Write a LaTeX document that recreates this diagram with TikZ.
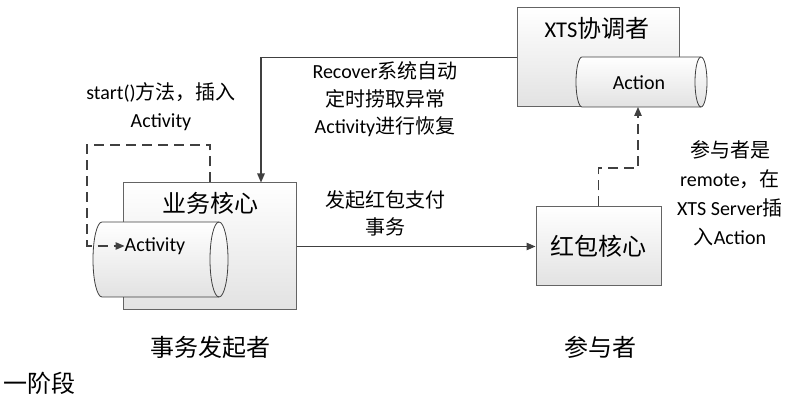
\documentclass[tikz,border=0pt]{standalone}
\usepackage{fontspec}
\setmainfont{Carlito}
\newfontfamily\cjk{Noto Sans CJK SC}
\usetikzlibrary{arrows.meta}

\definecolor{linegray}{RGB}{64,64,64}
\definecolor{edgegray}{RGB}{100,100,100}
\definecolor{fillgray}{RGB}{226,226,226}

% Chinese run inside Latin text
\newcommand\zh[1]{{\cjk #1}}

\tikzset{
  corebox/.style={draw=edgegray, line width=1pt, top color=white,
    bottom color=fillgray, inner sep=0pt},
  cylbody/.style={draw=linegray, line width=0.8pt, top color=white,
    bottom color=fillgray},
  cyledge/.style={draw=linegray, line width=0.8pt},
  label/.style={font=\fontsize{20}{27.5}\selectfont, align=center,
    inner sep=0pt},
  title/.style={font=\fontsize{24}{30}\selectfont\cjk, inner sep=0pt},
  link/.style={draw=linegray, line width=1.2pt,
    -{Triangle[length=9pt,width=7.5pt]}},
  dashlink/.style={link, dash pattern=on 10pt off 6pt},
}

\begin{document}
\begin{tikzpicture}[x=1pt,y=1pt]
\useasboundingbox (0,0) rectangle (787,396);

% initiator: business core with its Activity store
\node[corebox, minimum width=173pt, minimum height=127pt] (biz) at (209.5,149.5) {};
\node[title] (biztitle) at (210,193) {业务核心};
\path[cylbody] (102,174) -- (219,174)
  arc[start angle=90, end angle=-90, x radius=9pt, y radius=37.5pt]
  -- (102,99)
  arc[start angle=270, end angle=90, x radius=9pt, y radius=37.5pt] -- cycle;
\draw[cyledge] (219,174) arc[start angle=90, end angle=270, x radius=9pt, y radius=37.5pt];
\node[label, font=\fontsize{20}{24}\selectfont] (activity) at (155,150) {Activity};

% coordinator with its Action store
\node[corebox, minimum width=162pt, minimum height=99pt] (xts) at (598,338.5) {};
\node[title] (xtstitle) at (597,368) {{\fontsize{22.5}{30}\selectfont\rmfamily XTS}协调者};
\path[cylbody] (582,339) -- (701,339)
  arc[start angle=90, end angle=-90, x radius=6pt, y radius=25pt]
  -- (582,289)
  arc[start angle=270, end angle=90, x radius=6pt, y radius=25pt] -- cycle;
\draw[cyledge] (701,339) arc[start angle=90, end angle=270, x radius=6pt, y radius=25pt];
\node[label, font=\fontsize{20}{24}\selectfont] (action) at (639,313) {Action};
\coordinate (actbot) at (638,289);

% participant
\node[corebox, minimum width=125pt, minimum height=79pt,
  font=\fontsize{24}{30}\selectfont\cjk] (hb) at (598.5,149.5) {红包核心};

% connectors
\coordinate (loop) at (87,251);
\coordinate (bend) at (638,228);
\draw[link] (xts.west) -| ([xshift=51.5pt]biz.north);
\draw[link] (biz.east) -- (hb.west);
\draw[dashlink] ([xshift=0.5pt]biz.north) |- (loop) |- (activity.west);
\draw[dashlink] (hb.north) |- (bend) -- (actbot);

% connector labels
\node[label] (startlbl) at (161,289.5) {start()\zh{方法，插入}\\Activity};
\node[label] (recoverlbl) at (385,296.5) {Recover\zh{系统自动}\\\zh{定时捞取异常}\\Activity\zh{进行恢复}};
\node[label] (paylbl) at (385,182.5) {\zh{发起红包支付}\\\zh{事务}};
\node[label, font=\fontsize{20}{29}\selectfont] (remotelbl) at (730,202.5)
  {\zh{参与者是}\\remote\zh{，在}\\XTS Server\zh{插}\\\zh{入}Action};

% role captions
\node[title] (initiator) at (210,49) {事务发起者};
\node[title] (participant) at (600,49) {参与者};
\node[title, anchor=west] (phase) at (3,13) {一阶段};
\end{tikzpicture}
\end{document}
